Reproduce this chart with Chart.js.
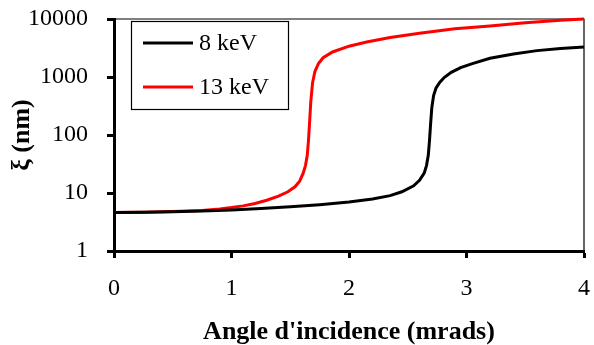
<!DOCTYPE html>
<html>
<head>
<meta charset="utf-8">
<script src="https://cdn.jsdelivr.net/npm/chart.js@4/dist/chart.umd.min.js"></script>
<style>
  html, body { margin: 0; padding: 0; background: #fff; }
  #wrap { width: 594px; height: 345px; }
</style>
</head>
<body>
<div id="wrap"><canvas id="c" width="594" height="345"></canvas></div>
<script>
// Coherence length versus grazing angle, two photon energies
const seriesNames = ['8 keV', '13 keV'];

const angle8 = [0, 0.25, 0.5, 0.75, 1.0, 1.25, 1.5, 1.75, 2.0, 2.2, 2.35, 2.45, 2.55, 2.6, 2.64, 2.66,
  2.675, 2.685, 2.695, 2.705, 2.72, 2.74, 2.77, 2.81, 2.87, 2.95, 3.05, 3.2, 3.4, 3.6, 3.8, 4.0];
const xi8 = [4.6, 4.65, 4.75, 4.9, 5.1, 5.4, 5.8, 6.3, 7.0, 7.9, 9.0, 10.5, 13.3, 16.5, 22, 30,
  45, 80, 160, 300, 480, 640, 800, 980, 1200, 1450, 1700, 2100, 2500, 2850, 3100, 3300];

const angle13 = [0, 0.25, 0.5, 0.75, 0.9, 1.0, 1.1, 1.2, 1.3, 1.4, 1.48, 1.54, 1.58, 1.61, 1.63,
  1.645, 1.655, 1.665, 1.675, 1.69, 1.71, 1.74, 1.78, 1.86, 2.0, 2.15, 2.35, 2.6, 2.9, 3.2, 3.5, 3.8, 4.0];
const xi13 = [4.6, 4.65, 4.8, 5.0, 5.3, 5.6, 6.0, 6.6, 7.5, 8.8, 10.5, 12.8, 16, 22, 30,
  45, 80, 170, 380, 800, 1250, 1700, 2150, 2700, 3400, 4000, 4800, 5700, 6800, 7600, 8600, 9500, 10000];

const xTicks = [0, 1, 2, 3, 4];
const yTicks = [1, 10, 100, 1000, 10000];

const FONT = "'Liberation Serif', 'Times New Roman', serif";

function pairs(xs, ys) { return xs.map((x, i) => ({ x: x, y: ys[i] })); }

// thin frame on the top and right of the plotting area
const frame = {
  id: 'frame',
  beforeDatasetsDraw(chart) {
    const a = chart.chartArea, ctx = chart.ctx;
    ctx.save();
    ctx.strokeStyle = '#000';
    ctx.lineWidth = 1.2;
    ctx.beginPath();
    ctx.moveTo(a.left, a.top);
    ctx.lineTo(a.right, a.top);
    ctx.lineTo(a.right, a.bottom);
    ctx.stroke();
    ctx.restore();
  }
};

// boxed legend inside the top-left corner of the plotting area
const boxLegend = {
  id: 'boxLegend',
  afterDraw(chart) {
    const a = chart.chartArea, ctx = chart.ctx;
    const x0 = a.left + 17, y0 = a.top + 2, w = 157, h = 88;
    ctx.save();
    ctx.fillStyle = '#fff';
    ctx.fillRect(x0, y0, w, h);
    ctx.strokeStyle = '#000';
    ctx.lineWidth = 1.2;
    ctx.strokeRect(x0 + 0.5, y0 + 0.5, w, h);
    ctx.font = '24px ' + FONT;
    ctx.textBaseline = 'middle';
    chart.data.datasets.forEach((ds, i) => {
      const y = y0 + 22 + i * 44;
      ctx.strokeStyle = ds.borderColor;
      ctx.lineWidth = 3;
      ctx.beginPath();
      ctx.moveTo(x0 + 12, y);
      ctx.lineTo(x0 + 62, y);
      ctx.stroke();
      ctx.fillStyle = '#000';
      ctx.fillText(ds.label, x0 + 68, y + 1);
    });
    ctx.restore();
  }
};

new Chart(document.getElementById('c'), {
  type: 'line',
  data: {
    datasets: [
      { label: seriesNames[0], data: pairs(angle8, xi8), borderColor: '#000000', borderWidth: 3,
        pointRadius: 0, tension: 0, clip: false },
      { label: seriesNames[1], data: pairs(angle13, xi13), borderColor: '#ff0000', borderWidth: 3,
        pointRadius: 0, tension: 0, clip: false }
    ]
  },
  options: {
    responsive: false,
    animation: false,
    layout: { padding: { left: 0, right: 10, top: 19, bottom: 0 } },
    plugins: { legend: { display: false }, tooltip: { enabled: false } },
    scales: {
      x: {
        type: 'linear', min: 0, max: 4,
        afterBuildTicks: s => { s.ticks = xTicks.map(v => ({ value: v })); },
        afterFit: s => { s.height = 94; s.paddingLeft = 0; s.paddingRight = 0; },
        ticks: { color: '#000', font: { family: FONT, size: 24 }, padding: 16, maxRotation: 0,
          callback: v => String(v) },
        grid: { drawOnChartArea: false, drawTicks: true, tickLength: 7, tickWidth: 3, tickColor: '#000' },
        border: { display: true, color: '#000', width: 3 },
        title: { display: true, text: "Angle d'incidence (mrads)", color: '#000',
          font: { family: FONT, size: 26, weight: 'bold', lineHeight: 1 }, padding: { top: 0, bottom: 0 } }
      },
      y: {
        type: 'logarithmic', min: 1, max: 10000,
        afterBuildTicks: s => { s.ticks = yTicks.map(v => ({ value: v })); },
        afterFit: s => { s.width = 114; s.paddingTop = 0; s.paddingBottom = 0; },
        ticks: { color: '#000', font: { family: FONT, size: 24 }, padding: 19,
          callback: v => String(v) },
        grid: { drawOnChartArea: false, drawTicks: true, tickLength: 7, tickWidth: 3, tickColor: '#000' },
        border: { display: true, color: '#000', width: 3 },
        title: { display: true, text: 'ξ (nm)', color: '#000',
          font: { family: FONT, size: 26, weight: 'bold', lineHeight: 1 }, padding: { top: 9, bottom: 0 } }
      }
    }
  },
  plugins: [frame, boxLegend]
});
</script>
</body>
</html>
